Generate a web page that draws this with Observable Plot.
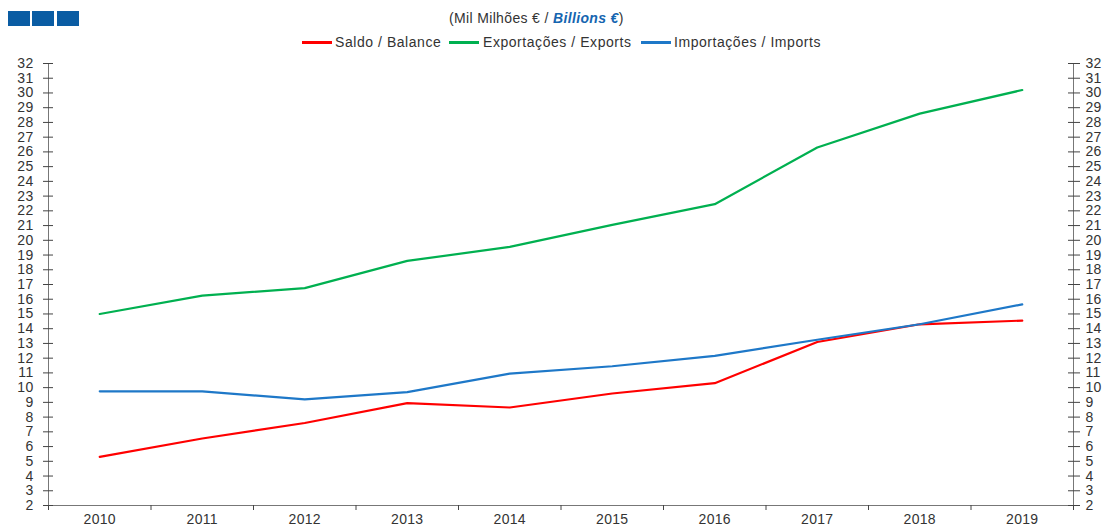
<!DOCTYPE html>
<html><head><meta charset="utf-8">
<script src="https://cdn.jsdelivr.net/npm/d3@7"></script>
<script src="https://cdn.jsdelivr.net/npm/@observablehq/plot@0.6"></script>
<style>
body{margin:0;background:#fff;font-family:"Liberation Sans",Arial,sans-serif;}
#wrap{position:relative;width:1104px;height:526px;overflow:hidden;}
#head{position:relative;height:50px;}
.logo{position:absolute;top:11px;height:15px;width:22px;background:#0a5ca3;}
#sub{position:absolute;left:449px;top:10px;font-size:14px;line-height:16px;color:#333;letter-spacing:0.35px;white-space:nowrap;}
#sub b{color:#1565b0;font-style:italic;}
.sw{position:absolute;top:41px;width:30px;height:3px;}
.lt{position:absolute;top:34px;font-size:14px;line-height:16px;color:#333;letter-spacing:0.55px;white-space:nowrap;}
#chart svg{display:block;}
</style></head><body>
<div id="wrap">
  <div id="head">
    <div class="logo" style="left:8px"></div>
    <div class="logo" style="left:32px"></div>
    <div class="logo" style="left:57px"></div>
    <div id="sub">(Mil Milhões € / <b>Billions €</b>)</div>
    <div id="legend"></div>
  </div>
  <div id="chart"></div>
</div>
<script>
const years = [2010, 2011, 2012, 2013, 2014, 2015, 2016, 2017, 2018, 2019];
const saldo = [5.3, 6.55, 7.6, 8.95, 8.65, 9.6, 10.3, 13.1, 14.3, 14.55];
const exportacoes = [15.0, 16.25, 16.75, 18.6, 19.55, 21.05, 22.45, 26.3, 28.6, 30.2];
const importacoes = [9.75, 9.75, 9.2, 9.7, 10.95, 11.45, 12.15, 13.25, 14.3, 15.65];
const seriesNames = ["Saldo / Balance", "Exportações / Exports", "Importações / Imports"];
const seriesColors = ["#ff0000", "#00b050", "#1e78c8"];
const yTicks = [2,3,4,5,6,7,8,9,10,11,12,13,14,15,16,17,18,19,20,21,22,23,24,25,26,27,28,29,30,31,32];

const seriesValues = [saldo, exportacoes, importacoes];
const rows = seriesNames.flatMap((s, i) => years.map((y, j) => ({series: s, year: y, value: seriesValues[i][j]})));
const xEdges = [...years.map(y => y - 0.5), years[years.length - 1] + 0.5];
const xDomain = [xEdges[0], xEdges[xEdges.length - 1]];
const yDomain = [yTicks[0], yTicks[yTicks.length - 1]];

// legend
const legendPos = [[302, 335], [449, 483], [641, 674]];
const legend = document.getElementById("legend");
seriesNames.forEach((s, i) => {
  const sw = document.createElement("div");
  sw.className = "sw"; sw.style.left = legendPos[i][0] + "px"; sw.style.background = seriesColors[i];
  const t = document.createElement("div");
  t.className = "lt"; t.style.left = legendPos[i][1] + "px"; t.textContent = s;
  legend.appendChild(sw); legend.appendChild(t);
});

const axisColor = "#777";
const tickColor = "#444";
const chart = Plot.plot({
  width: 1104, height: 476,
  marginTop: 13, marginBottom: 21, marginLeft: 48, marginRight: 31,
  style: {fontFamily: '"Liberation Sans", Arial, sans-serif', fontSize: "14px", color: "#333", background: "#fff", letterSpacing: "0.3px"},
  x: {domain: xDomain},
  y: {domain: yDomain},
  color: {domain: seriesNames, range: seriesColors},
  marks: [
    Plot.ruleY([yDomain[0]], {stroke: axisColor}),
    Plot.ruleX(xDomain, {y1: yDomain[0], y2: yDomain[1], stroke: axisColor}),
    Plot.axisX(xEdges, {tickSize: 5, fill: "none", stroke: tickColor, label: null}),
    Plot.axisX(years, {tickSize: 0, tickPadding: 9, tickFormat: d => String(d), label: null, fill: "#333"}),
    Plot.axisY(yTicks, {anchor: "left", tickSize: 10, dx: 5, fill: "none", stroke: tickColor, label: null}),
    Plot.axisY(yTicks, {anchor: "left", tickSize: 0, tickPadding: 15, tickFormat: d => String(d), label: null, fill: "#333"}),
    Plot.axisY(yTicks, {anchor: "right", tickSize: 12, dx: -6, fill: "none", stroke: tickColor, label: null}),
    Plot.axisY(yTicks, {anchor: "right", tickSize: 0, tickPadding: 12, tickFormat: d => String(d), label: null, fill: "#333"}),
    Plot.line(rows, {x: "year", y: "value", z: "series", stroke: "series", strokeWidth: 2.2})
  ]
});
document.getElementById("chart").appendChild(chart);
</script>
</body></html>
